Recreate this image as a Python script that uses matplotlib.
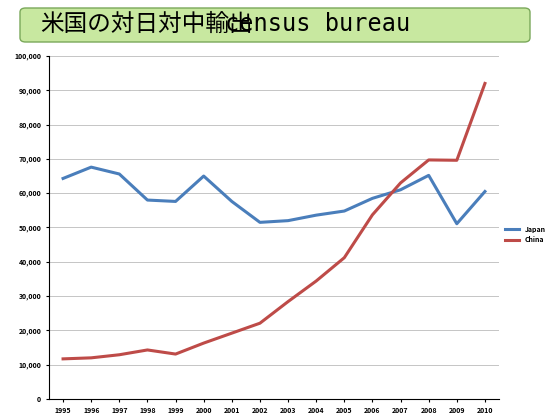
import matplotlib
matplotlib.use("Agg")
import matplotlib.pyplot as plt
from matplotlib.patches import FancyBboxPatch
import numpy as np

years = [str(y) for y in range(1995, 2011)]
japan = [64300, 67600, 65600, 58000, 57600, 65000, 57600, 51500, 52000, 53600, 54800, 58500, 61000, 65200, 51100, 60500]
china = [11700, 12000, 12900, 14300, 13100, 16300, 19200, 22100, 28400, 34400, 41200, 53700, 63000, 69700, 69600, 92000]

plt.rcParams['font.family'] = ['Noto Sans CJK JP', 'DejaVu Sans']
fig = plt.figure(figsize=(5.58, 4.19), dpi=100)
ax = fig.add_axes([49/558, 20/419, 450/558, 343/419])
x = np.arange(len(years))
ax.plot(x, japan, color='#4a7ebb', lw=2.2, label='Japan')
ax.plot(x, china, color='#be4b48', lw=2.2, label='China')
ax.set_xlim(-0.5, len(years) - 0.5)
ax.set_ylim(0, 100000)
ax.set_yticks(range(0, 100001, 10000))
ax.set_yticklabels([f"{v:,}" for v in range(0, 100001, 10000)], fontsize=5, fontweight='bold')
ax.set_xticks(x)
ax.set_xticklabels(years, fontsize=5, fontweight='bold')
ax.grid(axis='y', color='#bbbbbb', lw=0.6)
ax.set_axisbelow(True)
for s in ['top', 'right']:
    ax.spines[s].set_visible(False)
ax.tick_params(length=2)
ax.legend(loc='center left', bbox_to_anchor=(1.0, 0.48), frameon=False, prop={'size': 5, 'weight': 'bold'}, handlelength=2)

box = FancyBboxPatch((20/558, 1 - 42/419), 510/558, 34/419, boxstyle="round,pad=0,rounding_size=0.01",
                     transform=fig.transFigure, facecolor='#c8e8a0', edgecolor='#7aa85a', lw=1)
fig.patches.append(box)
fig.text(40/558, 1 - 24/419, "米国の対日対中輸出", ha='left', va='center', fontsize=17)
fig.text(225/558, 1 - 24/419, "census bureau", ha='left', va='center', fontsize=17,
         family=['DejaVu Sans Mono'])
fig.savefig("out.png", dpi=100)
